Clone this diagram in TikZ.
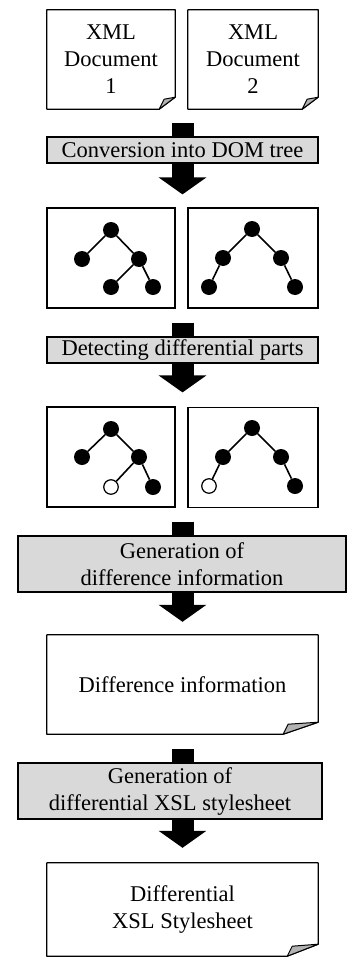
\documentclass[tikz,border=0pt]{standalone}
\usepackage{fontspec}
\setmainfont{Liberation Serif}
\usetikzlibrary{arrows.meta, backgrounds}

\tikzset{
	box/.style = {draw, line width = 1.2pt, inner sep = 0pt},
	docbox/.style = {inner sep = 0pt, align = center},
	stagebox/.style = {draw, line width = 1.2pt, fill = black!15, inner sep = 0pt, align = center, minimum height = 26pt},
	knot/.style = {circle, fill = black, inner sep = 0pt, minimum size = 16pt},
	openknot/.style = {circle, draw, fill = white, line width = 1.2pt, inner sep = 0pt, minimum size = 14.5pt},
	branch/.style = {line width = 1.6pt},
	blockarrow/.style = {line width = 22pt, -{Triangle[width = 47pt, length = 17pt]}}
}

% page outline with a curled corner: node name, width of the curl
\newcommand{\foldedpage}[2]{%
	\draw [line width = 1.2pt, line join = round] (#1.north west) -- (#1.north east) -- ([yshift = 12pt]#1.south east) -- ([xshift = -#2]#1.south east) -- (#1.south west) -- cycle;
	\filldraw [fill = black!30, line width = 1pt, line join = round] ([xshift = -#2]#1.south east) -- ([yshift = 12pt]#1.south east) -- ([xshift = -#2 + 5pt, yshift = 10pt]#1.south east) -- cycle;
}

\begin{document}
\begin{tikzpicture}[x = 1pt, y = -1pt, font = \fontsize{22.5}{27}\selectfont]

	\useasboundingbox (0, 0) rectangle (357, 958);

	% Documents

	\node [docbox, minimum width = 128pt, minimum height = 99pt] (doc1) at (111, 59.5) {XML\\Document\\1};
	\node [docbox, minimum width = 130pt, minimum height = 99pt] (doc2) at (253, 59.5) {XML\\Document\\2};
	\foldedpage{doc1}{16pt}
	\foldedpage{doc2}{16pt}

	% Conversion

	\node [stagebox, minimum width = 271pt] (conv) at (182.5, 150) {Conversion into DOM tree};

	% DOM trees

	\node [box, minimum width = 128pt, minimum height = 100pt] (domA) at (111, 258) {};
	\node [box, minimum width = 130pt, minimum height = 100pt] (domB) at (253, 258) {};

	\node [knot] (domA-root) at (111, 230) {};
	\node [knot] (domA-l) at (82, 259) {};
	\node [knot] (domA-r) at (139, 259) {};
	\node [knot] (domA-rl) at (111, 287) {};
	\node [knot] (domA-rr) at (153, 287) {};
	\draw [branch] (domA-root) -- (domA-l);
	\draw [branch] (domA-root) -- (domA-r);
	\draw [branch] (domA-r) -- (domA-rl);
	\draw [branch] (domA-r) -- (domA-rr);

	\node [knot] (domB-root) at (252, 229) {};
	\node [knot] (domB-l) at (223, 258) {};
	\node [knot] (domB-r) at (281, 258) {};
	\node [knot] (domB-ll) at (209, 287) {};
	\node [knot] (domB-rr) at (295, 287) {};
	\draw [branch] (domB-root) -- (domB-l);
	\draw [branch] (domB-root) -- (domB-r);
	\draw [branch] (domB-l) -- (domB-ll);
	\draw [branch] (domB-r) -- (domB-rr);

	% Detecting

	\node [stagebox, minimum width = 271pt] (detect) at (182.5, 350) {Detecting differential parts};

	% Marked trees

	\node [box, minimum width = 128pt, minimum height = 100pt] (diffA) at (111, 457) {};
	\node [box, minimum width = 130pt, minimum height = 100pt] (diffB) at (253, 457.5) {};

	\node [knot] (diffA-root) at (111, 429) {};
	\node [knot] (diffA-l) at (82, 457) {};
	\node [knot] (diffA-r) at (139, 457) {};
	\node [openknot] (diffA-rl) at (111, 487) {};
	\node [knot] (diffA-rr) at (153, 487) {};
	\draw [branch] (diffA-root) -- (diffA-l);
	\draw [branch] (diffA-root) -- (diffA-r);
	\draw [branch] (diffA-r) -- (diffA-rl);
	\draw [branch] (diffA-r) -- (diffA-rr);

	\node [knot] (diffB-root) at (252, 428) {};
	\node [knot] (diffB-l) at (223, 457) {};
	\node [knot] (diffB-r) at (281, 457) {};
	\node [openknot] (diffB-ll) at (209, 486) {};
	\node [knot] (diffB-rr) at (295, 486) {};
	\draw [branch] (diffB-root) -- (diffB-l);
	\draw [branch] (diffB-root) -- (diffB-r);
	\draw [branch] (diffB-l) -- (diffB-ll);
	\draw [branch] (diffB-r) -- (diffB-rr);

	% Generation of difference information

	\node [stagebox, minimum width = 328pt, minimum height = 56pt] (gen1) at (182, 564) {Generation of\\difference information};

	% Difference information

	\node [docbox, minimum width = 271pt, minimum height = 99pt] (info) at (182.5, 684.5) {Difference information};
	\foldedpage{info}{35pt}

	% Generation of stylesheet

	\node [stagebox, minimum width = 304pt, minimum height = 56pt] (gen2) at (170, 791) {Generation of\\differential XSL stylesheet};

	% Stylesheet

	\node [docbox, minimum width = 271pt, minimum height = 93pt] (xsl) at (182.5, 909.5) {Differential\\XSL Stylesheet};
	\foldedpage{xsl}{31pt}

	% Arrows

	\begin{pgfonlayer}{background}
		\draw [blockarrow] ([yshift = -14pt]conv.north |- doc1.south) -- ([yshift = 13pt]conv.north |- domA.north);
		\draw [blockarrow] ([yshift = -14pt]detect.north |- domA.south) -- ([yshift = 14pt]detect.north |- diffA.north);
		\draw [blockarrow] ([yshift = -14pt]info.north |- diffA.south) -- ([yshift = 13pt]info.north);
		\draw [blockarrow] ([yshift = -15pt]info.south) -- ([yshift = 15pt]xsl.north);
	\end{pgfonlayer}

\end{tikzpicture}
\end{document}
